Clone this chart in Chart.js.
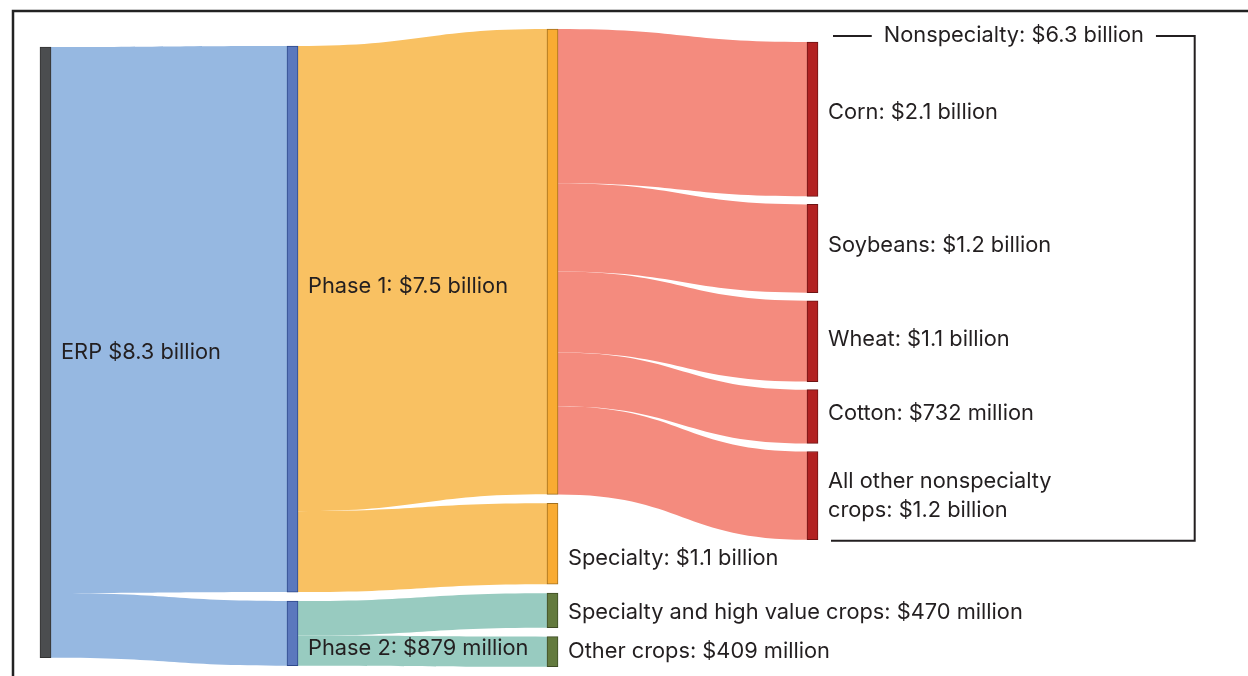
<!DOCTYPE html>
<html>
<head>
<meta charset="utf-8">
<script src="https://cdn.jsdelivr.net/npm/chart.js@4/dist/chart.umd.min.js"></script>
<style>
  html, body { margin: 0; padding: 0; background: #fff; }
</style>
</head>
<body>
<canvas id="sankeyChart" width="1248" height="676"></canvas>
<script>
// nodes of the diagram, left to right
const nodeNames = ['ERP', 'Phase 1', 'Phase 2', 'Nonspecialty', 'Specialty',
    'Specialty and high value crops', 'Other crops', 'Corn', 'Soybeans', 'Wheat',
    'Cotton', 'All other nonspecialty crops'];
const nodeColumns = [0, 1, 1, 2, 2, 2, 2, 3, 3, 3, 3, 3];
const nodeLabels = [
    ['ERP $8.3 billion'],
    ['Phase 1: $7.5 billion'],
    ['Phase 2: $879 million'],
    [],
    ['Specialty: $1.1 billion'],
    ['Specialty and high value crops: $470 million'],
    ['Other crops: $409 million'],
    ['Corn: $2.1 billion'],
    ['Soybeans: $1.2 billion'],
    ['Wheat: $1.1 billion'],
    ['Cotton: $732 million'],
    ['All other nonspecialty', 'crops: $1.2 billion']
];
const groupLabel = 'Nonspecialty: $6.3 billion';

// flows, in billions of dollars
const flowFrom = ['ERP', 'ERP', 'Phase 1', 'Phase 1', 'Phase 2', 'Phase 2',
    'Nonspecialty', 'Nonspecialty', 'Nonspecialty', 'Nonspecialty', 'Nonspecialty'];
const flowTo = ['Phase 1', 'Phase 2', 'Nonspecialty', 'Specialty',
    'Specialty and high value crops', 'Other crops',
    'Corn', 'Soybeans', 'Wheat', 'Cotton', 'All other nonspecialty crops'];
const flowValues = [7.43, 0.879, 6.33, 1.1, 0.47, 0.409, 2.1, 1.2, 1.1, 0.732, 1.2];

// layout
const colX = [0, 0.95, 1.95, 2.95];
const colStart = [0.245, 0.231, 0, 0.177];
const colGap = [0, 0.122, 0.122, 0.11];
const labelShift = [0, -33, 15, 0, 15, 2, 0, -7, -3, -2, -3, 0];
const nodeFill = ['#4b4d4f', '#5b78bd', '#5b78bd', '#f9ab32', '#f9ab32', '#637a3e', '#637a3e',
    '#b22222', '#b22222', '#b22222', '#b22222', '#b22222'];
const nodeBorder = ['#333333', '#2e4a8c', '#2e4a8c', '#a3701f', '#a3701f', '#3e4c26', '#3e4c26',
    '#6e1414', '#6e1414', '#6e1414', '#6e1414', '#6e1414'];
const flowFill = { 'ERP': '#96b8e1', 'Phase 1': '#f9c162', 'Phase 2': '#98cbc0', 'Nonspecialty': '#f48b7e' };
const textColor = '#231f20';
const font = '21.8px Inter, "Noto Sans", sans-serif';

const src = flowFrom.map(n => nodeNames.indexOf(n));
const dst = flowTo.map(n => nodeNames.indexOf(n));

const nodeValue = nodeNames.map((n, i) => {
    let inSum = 0, outSum = 0;
    flowValues.forEach((v, k) => {
        if (src[k] === i) outSum += v;
        if (dst[k] === i) inSum += v;
    });
    return Math.max(inSum, outSum);
});

const nodeStart = [];
const cursor = colStart.slice();
nodeNames.forEach((n, i) => {
    const c = nodeColumns[i];
    nodeStart[i] = cursor[c];
    cursor[c] += nodeValue[i] + colGap[c];
});

const flowPlugin = {
    id: 'flows',
    beforeDatasetsDraw(chart) {
        const { ctx, scales: { y } } = chart;
        const bars = chart.getDatasetMeta(0).data;
        const outOff = nodeStart.slice();
        const inOff = nodeStart.slice();
        ctx.save();
        flowValues.forEach((v, k) => {
            const s = src[k], t = dst[k];
            const x0 = bars[s].x + bars[s].width / 2;
            const x1 = bars[t].x - bars[t].width / 2;
            const a0 = y.getPixelForValue(outOff[s]), a1 = y.getPixelForValue(outOff[s] + v);
            const b0 = y.getPixelForValue(inOff[t]), b1 = y.getPixelForValue(inOff[t] + v);
            outOff[s] += v;
            inOff[t] += v;
            const xm = (x0 + x1) / 2;
            ctx.beginPath();
            ctx.moveTo(x0, a0);
            ctx.bezierCurveTo(xm, a0, xm, b0, x1, b0);
            ctx.lineTo(x1, b1);
            ctx.bezierCurveTo(xm, b1, xm, a1, x0, a1);
            ctx.closePath();
            ctx.fillStyle = flowFill[flowFrom[k]];
            ctx.fill();
        });
        ctx.restore();
    },
    afterDatasetsDraw(chart) {
        const { ctx, scales: { x, y } } = chart;
        const bars = chart.getDatasetMeta(0).data;
        ctx.save();
        ctx.font = font;
        ctx.fillStyle = textColor;
        ctx.textBaseline = 'middle';
        ctx.textAlign = 'left';
        nodeLabels.forEach((lines, i) => {
            if (!lines.length) return;
            const bx = bars[i].x + bars[i].width / 2 + 10;
            const cy = y.getPixelForValue(nodeStart[i] + nodeValue[i] / 2) + labelShift[i];
            const lh = 29;
            lines.forEach((t, j) => {
                ctx.fillText(t, bx, cy + (j - (lines.length - 1) / 2) * lh);
            });
        });

        // bracket around the nonspecialty crops
        const first = nodeNames.indexOf('Corn');
        const last = nodeNames.indexOf('All other nonspecialty crops');
        const left = bars[first].x + bars[first].width / 2 + 15;
        const right = x.getPixelForValue(4.42);
        const top = y.getPixelForValue(nodeStart[first]) - 6;
        const bottom = y.getPixelForValue(nodeStart[last] + nodeValue[last]) + 1;
        const mid = (left + right) / 2;
        const tw = ctx.measureText(groupLabel).width;
        ctx.textAlign = 'center';
        ctx.fillText(groupLabel, mid, top - 1);
        ctx.strokeStyle = '#231f20';
        ctx.lineWidth = 2;
        ctx.beginPath();
        ctx.moveTo(left, top);
        ctx.lineTo(mid - tw / 2 - 12, top);
        ctx.moveTo(mid + tw / 2 + 12, top);
        ctx.lineTo(right, top);
        ctx.lineTo(right, bottom);
        ctx.lineTo(left - 2, bottom);
        ctx.stroke();

        // frame
        ctx.strokeStyle = '#222';
        ctx.lineWidth = 2.5;
        ctx.beginPath();
        ctx.moveTo(13, 676);
        ctx.lineTo(13, 11);
        ctx.lineTo(1248, 11);
        ctx.stroke();
        ctx.restore();
    }
};

new Chart(document.getElementById('sankeyChart'), {
    type: 'bar',
    data: {
        datasets: [{
            data: nodeNames.map((n, i) => ({ x: colX[nodeColumns[i]], y: [nodeStart[i], nodeStart[i] + nodeValue[i]] })),
            backgroundColor: nodeFill,
            borderColor: nodeBorder,
            borderWidth: 1,
            borderSkipped: false,
            barThickness: 11,
            grouped: false,
            clip: false
        }]
    },
    options: {
        responsive: false,
        animation: false,
        layout: { padding: 0 },
        scales: {
            x: { type: 'linear', offset: false, min: -0.175, max: 4.625, display: false },
            y: { min: -0.3946, max: 8.803, reverse: true, display: false }
        },
        plugins: {
            legend: { display: false },
            tooltip: { enabled: false }
        }
    },
    plugins: [flowPlugin]
});
</script>
</body>
</html>
